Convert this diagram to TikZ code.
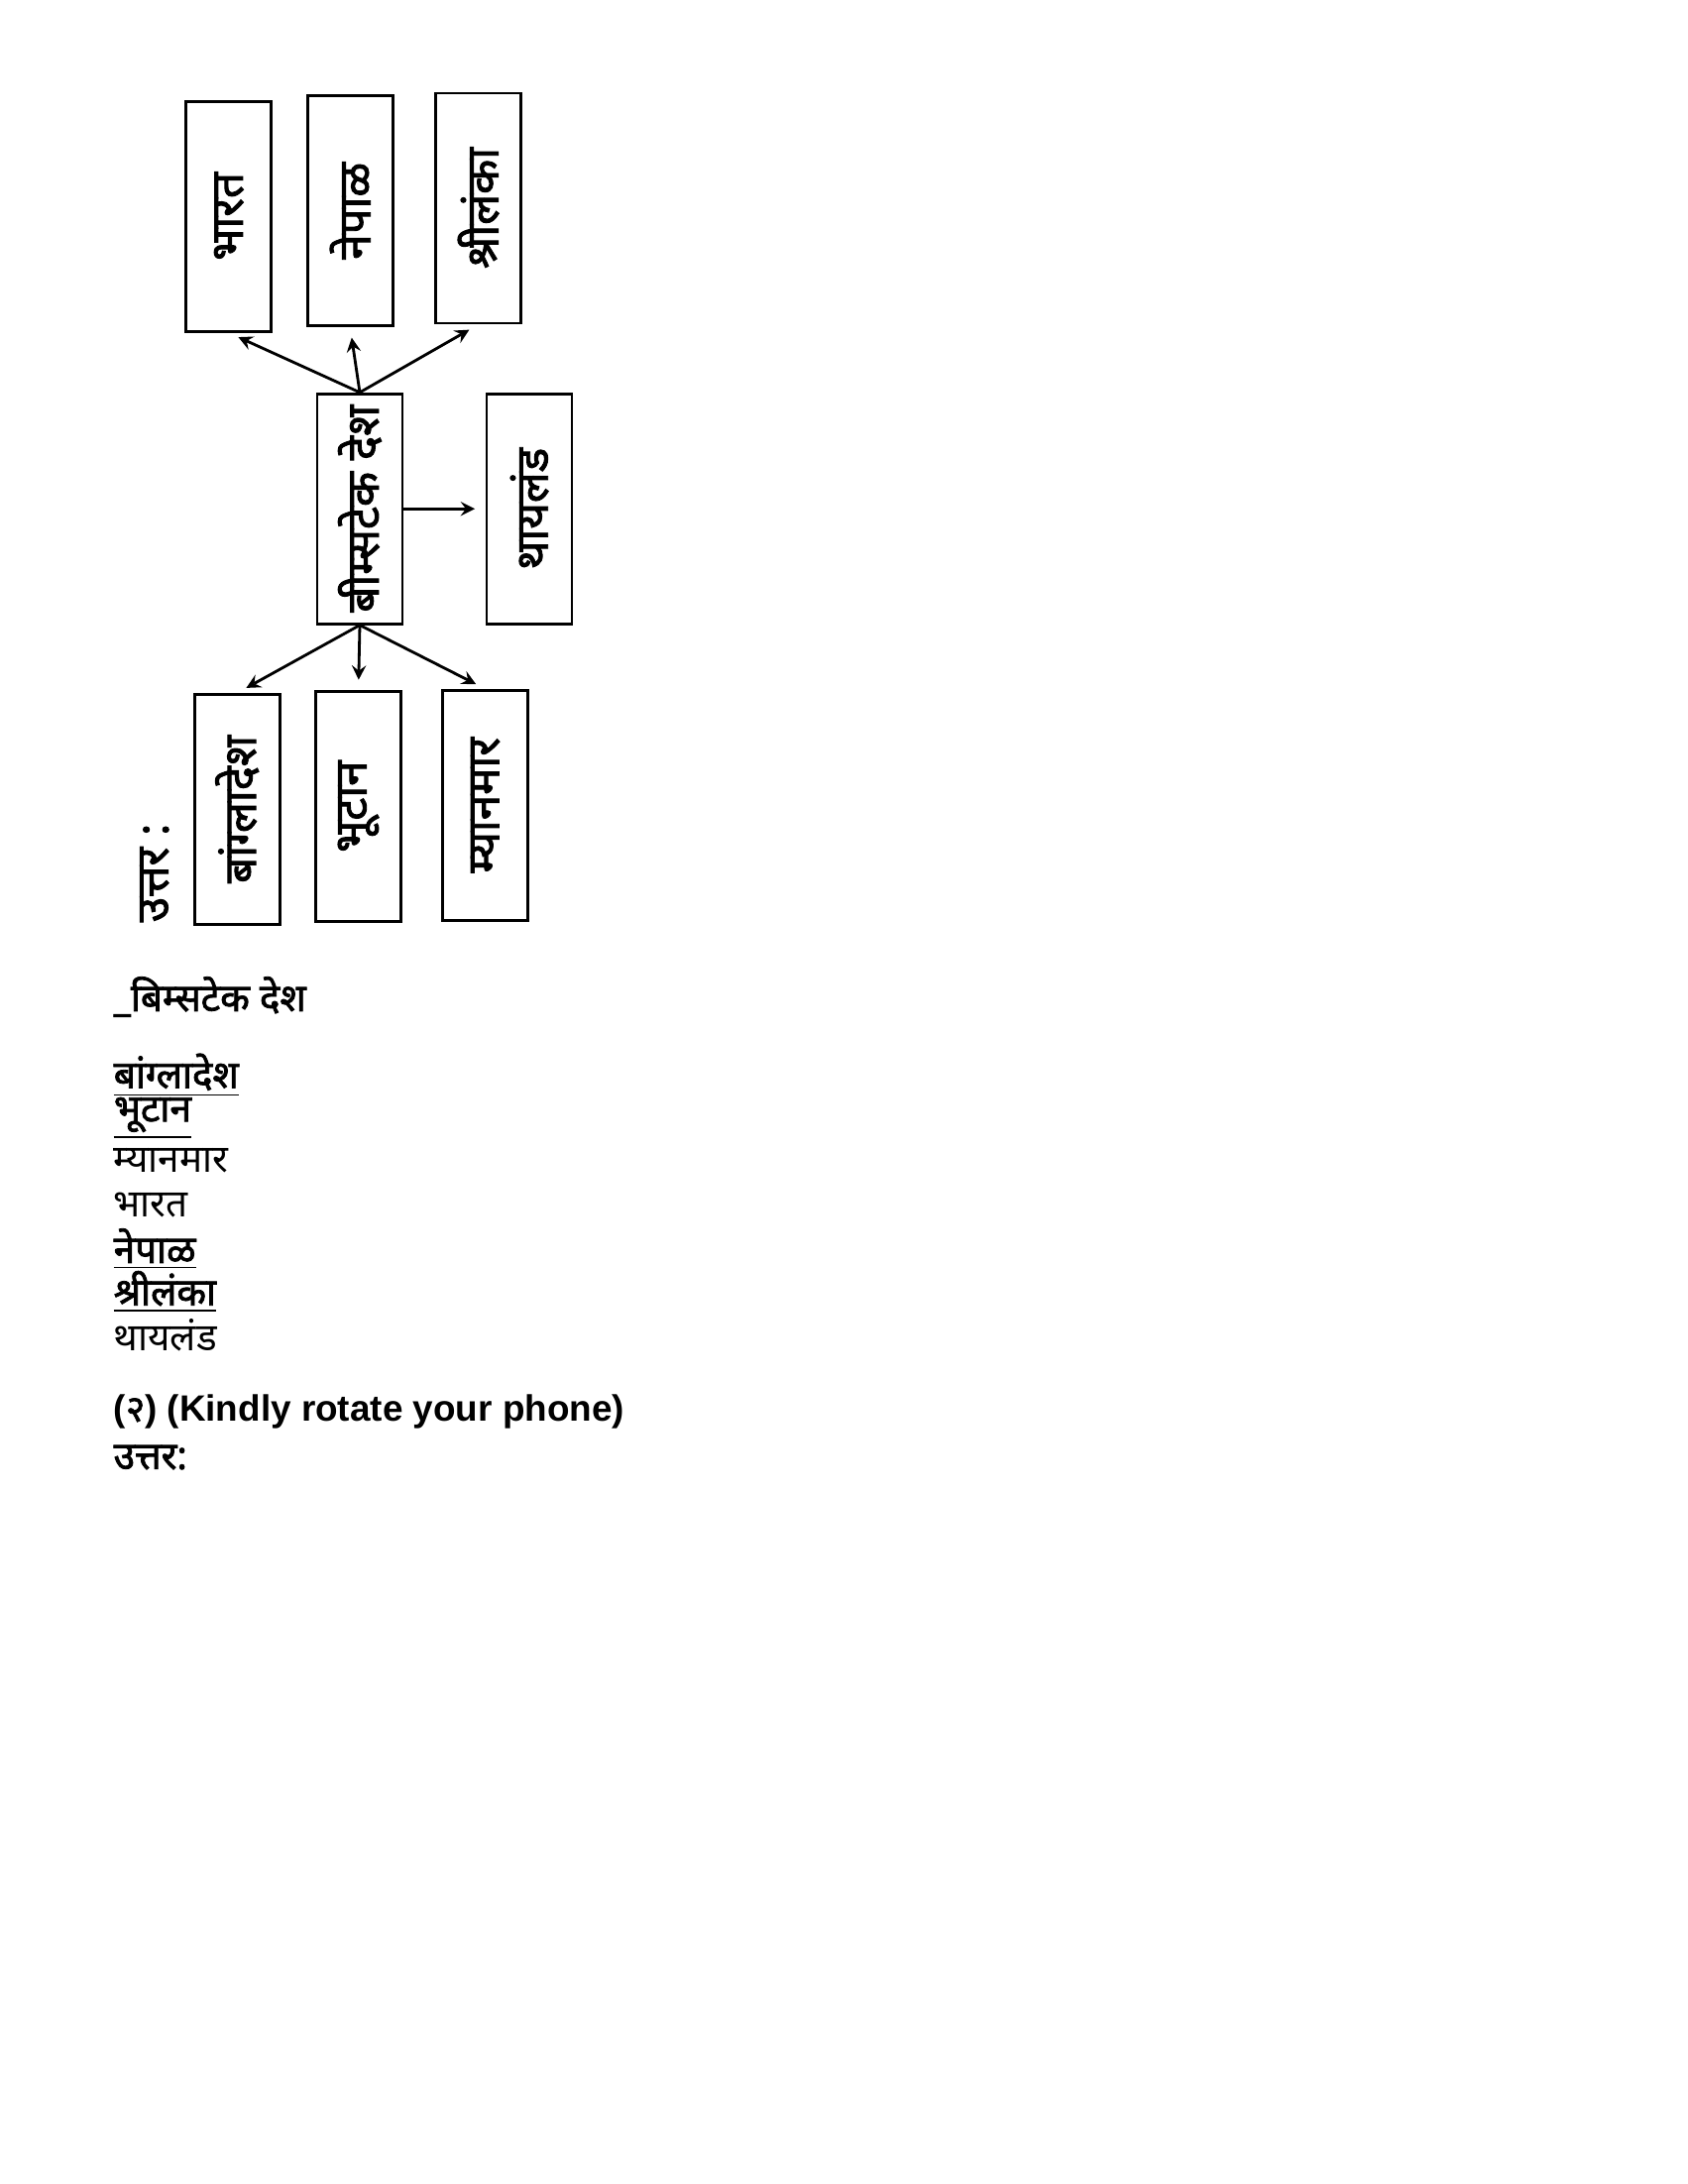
\documentclass[tikz,border=0pt]{standalone}
\usepackage{fontspec}
\setmainfont{Liberation Sans}
\newfontfamily\deva[Script=Devanagari, BoldFont={Noto Sans}, BoldFeatures={FakeBold=2}]{Noto Sans}
\usetikzlibrary{positioning}
\tikzset{>=stealth,
  cbox/.style={draw, thick, rotate=90, minimum width=23.2mm, minimum height=8.6mm,
               font=\deva\bfseries\fontsize{13}{13}\selectfont, inner sep=1pt},
  arr/.style={->, thick, shorten >=3pt},
  line/.style={anchor=west, inner sep=0pt, font=\deva\fontsize{11}{12}\selectfont},
  bline/.style={line, font=\deva\bfseries\fontsize{11}{12}\selectfont}}
\begin{document}
\begin{tikzpicture}[x=0.1391mm, y=-0.1391mm]
  \useasboundingbox (0,0) rectangle (1224,1584);
  % boxes
  \node [cbox] (bharat) at (166,157) {भारत};
  \node [cbox] (nepal) at (254,153) {नेपाळ};
  \node [cbox] (shri) at (347,151) {श्रीलंका};
  \node [cbox] (bim) at (261,369) {बीम्सटेक देश};
  \node [cbox] (thai) at (384,369) {थायलंड};
  \node [cbox] (bang) at (172,587) {बांग्लादेश};
  \node [cbox] (bhutan) at (260,585) {भूटान};
  \node [cbox] (myan) at (352,584) {म्यानमार};
  \node [rotate=90, font=\deva\bfseries\fontsize{13}{13}\selectfont] (uttar) at (112,633) {उत्तर :};
  % arrows
  \draw [arr] (bim.east) -- (bharat.west);
  \draw [arr] (bim.east) -- (nepal.west);
  \draw [arr] (bim.east) -- (shri.west);
  \draw [arr] (bim.west) -- (bang.east);
  \draw [arr] (bim.west) -- (bhutan.east);
  \draw [arr] (bim.west) -- (myan.east);
  \draw [arr] (bim) -- (thai);
  % list
  \node [bline] (t0) at (82,723) {\_बिम्सटेक देश};
  \node [bline] (t1) at (82,780) {\underline{बांग्लादेश}};
  \node [bline] (t2) at (82,811) {\underline{भूटान}};
  \node [line] (t3) at (82,842) {म्यानमार};
  \node [line] (t4) at (82,874) {भारत};
  \node [bline] (t5) at (82,906) {\underline{नेपाळ}};
  \node [bline] (t6) at (82,937) {\underline{श्रीलंका}};
  \node [line] (t7) at (82,968) {थायलंड};
  \node [line, font=\bfseries\fontsize{10.5}{12}\selectfont] (t8) at (82,1024) {({\deva २}) (Kindly rotate your phone)};
  \node [bline] (t9) at (82,1057) {उत्तर:};
\end{tikzpicture}
\end{document}
